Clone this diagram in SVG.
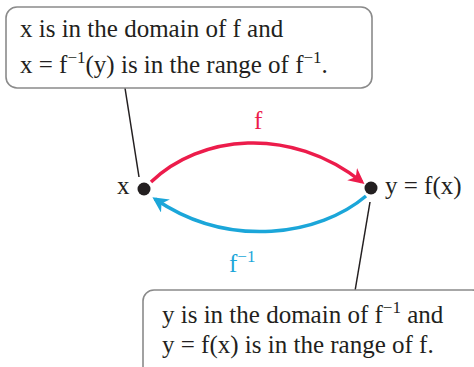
<svg xmlns="http://www.w3.org/2000/svg" width="474" height="367" viewBox="0 0 474 367">
<defs>
<marker id="ar" viewBox="0 0 10 10" refX="8" refY="5" markerWidth="4.5" markerHeight="4.5" orient="auto" markerUnits="strokeWidth"><path d="M0,0 L10,5 L0,10 L3,5 Z" fill="#ec1c4b"/></marker>
<marker id="ab" viewBox="0 0 10 10" refX="8" refY="5" markerWidth="4.5" markerHeight="4.5" orient="auto" markerUnits="strokeWidth"><path d="M0,0 L10,5 L0,10 L3,5 Z" fill="#1ba6d9"/></marker>
</defs>
<g id="connectors" fill="none">
<path stroke="#231f20" stroke-width="1.5" d="M125,88 L139,177"/>
<path stroke="#231f20" stroke-width="1.5" d="M370,202 L355,291"/>
<path stroke="#ec1c4b" stroke-width="3.5" d="M151,182 C200,135 290,125 362,182" marker-end="url(#ar)"/>
<path stroke="#1ba6d9" stroke-width="3.5" d="M366,196 C320,235 230,250 155,199" marker-end="url(#ab)"/>
</g>
<g id="box-top">
<rect fill="#fff" stroke="#8a8a8a" stroke-width="1.6" x="6" y="7" width="366" height="81" rx="11"/>
<text font-family="Liberation Serif" font-size="25" fill="#231f20" x="20" y="37">x is in the domain of f and</text>
<text font-family="Liberation Serif" font-size="25" fill="#231f20" x="20" y="73">x = f<tspan dy="-10" font-size="17">−1</tspan><tspan dy="10">(y) is in the range of f</tspan><tspan dy="-10" font-size="17">−1</tspan><tspan dy="10">.</tspan></text>
</g>
<g id="node-x">
<circle cx="144" cy="189" r="6.5" fill="#231f20"/>
<text font-family="Liberation Serif" font-size="25" fill="#231f20" x="117" y="194">x</text>
</g>
<g id="node-y">
<circle cx="371" cy="188" r="6.5" fill="#231f20"/>
<text font-family="Liberation Serif" font-size="25" fill="#231f20" x="385" y="194">y = f(x)</text>
</g>
<g id="label-f">
<text font-family="Liberation Serif" font-size="25" x="254" y="129" fill="#ec1c4b">f</text>
</g>
<g id="label-finv">
<text font-family="Liberation Serif" font-size="25" x="229" y="272" fill="#1ba6d9">f<tspan dy="-10" font-size="17">−1</tspan></text>
</g>
<g id="box-bottom">
<rect fill="#fff" stroke="#8a8a8a" stroke-width="1.6" x="143" y="290" width="340" height="90" rx="11"/>
<text font-family="Liberation Serif" font-size="25" fill="#231f20" x="162" y="323">y is in the domain of f<tspan dy="-10" font-size="17">−1</tspan><tspan dy="10"> and</tspan></text>
<text font-family="Liberation Serif" font-size="25" fill="#231f20" x="162" y="353">y = f(x) is in the range of f.</text>
</g>
</svg>
